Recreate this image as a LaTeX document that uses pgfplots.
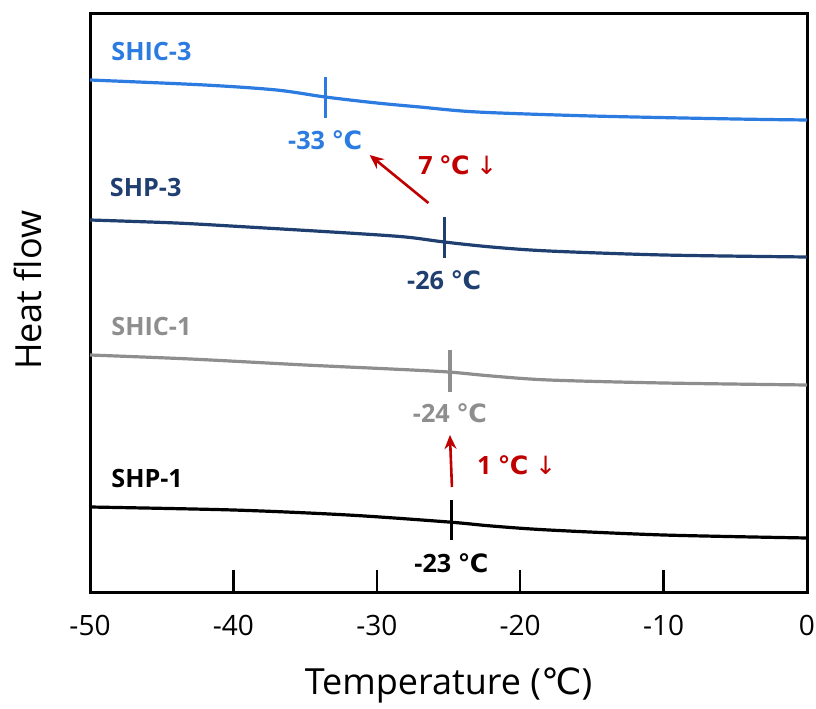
\documentclass[border=0pt]{standalone}
\usepackage{fontspec}
\setmainfont{Open Sans}
\newfontfamily\dv{DejaVu Sans}
\usepackage{pgfplots}
\pgfplotsset{compat=1.18}
\usetikzlibrary{arrows.meta}

\definecolor{cBlue}{HTML}{2B7BE0}
\definecolor{cNavy}{HTML}{1F3F70}
\definecolor{cGray}{HTML}{8E8E8E}
\definecolor{cRed}{HTML}{C00000}

\newcommand{\dC}{{\dv ℃}}
\newcommand{\dn}{{\dv\mdseries ↓}}
\newcommand{\lblfont}{\bfseries\fontsize{12.6bp}{14bp}\selectfont}

\begin{document}
\begin{tikzpicture}
\begin{axis}[
  at={(0,0)}, anchor=south west,
  scale only axis, width=358.5bp, height=289bp,
  xmin=-50, xmax=0, ymin=0, ymax=578,
  axis line style={line width=1.5bp},
  xtick={-50,-40,...,0},
  xticklabels={-50,-40,-30,-20,-10,0},
  ytick=\empty,
  xtick pos=bottom,
  tick align=inside,
  major tick length=11bp,
  tick style={line width=1.2bp, black},
  xticklabel style={font=\fontsize{14bp}{16bp}\selectfont, yshift=-8bp},
  xlabel={Temperature (\dC)},
  ylabel={Heat flow},
  xlabel style={font=\fontsize{18bp}{20bp}\selectfont, at={(axis description cs:0.5,-0.162)}, anchor=center},
  ylabel style={font=\fontsize{18bp}{20bp}\selectfont, at={(axis description cs:-0.087,0.522)}, anchor=center},
  clip=false,
]
% SHIC-3
\addplot[cBlue, line width=1.6bp, smooth] coordinates {
  (-50,512) (-42,507) (-37,502) (-33.6,495) (-30,489) (-27,485) (-23,480) (-15,476) (-5,473) (0,472)};
\addplot[cBlue, line width=1.6bp] coordinates {(-33.6,474) (-33.6,515)};
% SHP-3
\addplot[cNavy, line width=1.6bp, smooth] coordinates {
  (-50,372) (-44,369) (-39,365) (-32,359) (-28,355) (-25.3,350) (-22,345) (-18,341) (-10,337) (0,335)};
\addplot[cNavy, line width=1.6bp] coordinates {(-25.3,334) (-25.3,375)};
% SHIC-1
\addplot[cGray, line width=1.6bp, smooth] coordinates {
  (-50,237) (-43,233) (-35,227) (-29,223) (-25,220) (-22,216) (-18,212) (-10,209) (0,207)};
\addplot[cGray, line width=1.6bp] coordinates {(-24.9,200) (-24.9,242)};
% SHP-1
\addplot[black, line width=1.6bp, smooth] coordinates {
  (-50,85) (-40,82) (-32,77) (-25,70) (-22,66) (-18,62) (-10,57) (0,54)};
\addplot[black, line width=1.6bp] coordinates {(-24.8,52) (-24.8,92)};

% sample names
\node[cBlue, anchor=west, font=\lblfont] at (axis cs:-49.0,540) {SHIC-3};
\node[cNavy, anchor=west, font=\lblfont] at (axis cs:-49.1,404) {SHP-3};
\node[cGray, anchor=west, font=\lblfont] at (axis cs:-49.0,265) {SHIC-1};
\node[black, anchor=west, font=\lblfont] at (axis cs:-49.0,114) {SHP-1};

% transition temperatures
\node[cBlue, font=\lblfont] at (axis cs:-33.6,452) {-33 \dC};
\node[cNavy, font=\lblfont] at (axis cs:-25.3,312) {-26 \dC};
\node[cGray, font=\lblfont] at (axis cs:-24.9,179) {-24 \dC};
\node[black, font=\lblfont] at (axis cs:-24.8,29) {-23 \dC};

% shifts
\draw[cRed, line width=1.3bp, -{Stealth[length=7bp,width=6bp]}] (axis cs:-26.4,389) -- (axis cs:-30.5,437);
\node[cRed, anchor=west, font=\lblfont] at (axis cs:-27.6,427) {7 \dC\ \dn};
\draw[cRed, line width=1.3bp, -{Stealth[length=7bp,width=6bp]}] (axis cs:-24.76,105) -- (axis cs:-24.9,157);
\node[cRed, anchor=west, font=\lblfont] at (axis cs:-23.5,127) {1 \dC\ \dn};
\end{axis}
\pgfresetboundingbox
\path[use as bounding box] (-45bp,-58.5bp) rectangle (363bp,296bp);
\end{tikzpicture}
\end{document}
